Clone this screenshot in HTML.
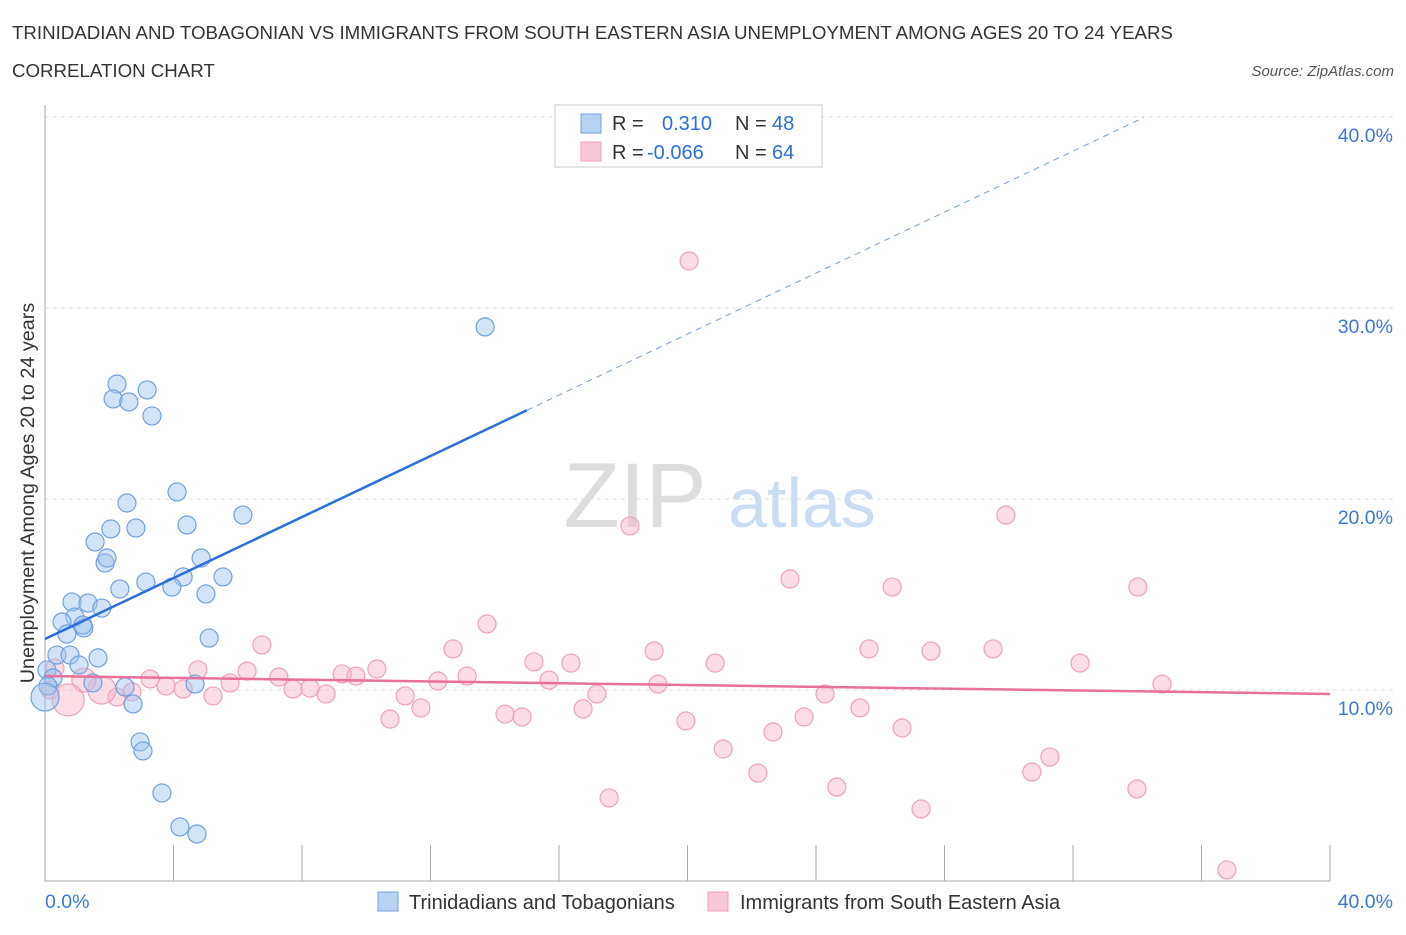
<!DOCTYPE html>
<html><head><meta charset="utf-8"><style>
body{margin:0;background:#fff;font-family:"Liberation Sans",sans-serif;}
svg text{font-family:"Liberation Sans",sans-serif;}
</style></head><body>
<svg id="c" width="1406" height="930" xmlns="http://www.w3.org/2000/svg">
<text x="12" y="39" font-size="18.7" fill="#333">TRINIDADIAN AND TOBAGONIAN VS IMMIGRANTS FROM SOUTH EASTERN ASIA UNEMPLOYMENT AMONG AGES 20 TO 24 YEARS</text>
<text x="12" y="77" font-size="18.7" fill="#333">CORRELATION CHART</text>
<text x="1394" y="76" font-size="15" font-style="italic" fill="#555" text-anchor="end">Source: ZipAtlas.com</text>
<g><text x="635" y="527" font-size="92" font-family="Liberation Serif" fill="#ddd" text-anchor="middle">ZIP</text><text x="802" y="527" font-size="70" fill="#c9dcf2" text-anchor="middle">atlas</text></g>
<g id="grid"></g>
<g id="axes"></g>
<g id="pts"></g>
<g id="trend"></g>
<text x="34" y="493" font-size="19.8" fill="#333" text-anchor="middle" transform="rotate(-90 34 493)">Unemployment Among Ages 20 to 24 years</text>
<g>
<rect x="555" y="105" width="267" height="62" fill="#fff" stroke="#ccc"/>
<rect x="581" y="114" width="20" height="19" fill="#b8d2f4" stroke="#6fa0e0"/>
<rect x="581" y="142" width="20" height="19" fill="#f9c8d6" stroke="#f0a0b8"/>
<text x="612" y="130" font-size="20" fill="#333">R = </text><text x="662" y="130" font-size="20" fill="#2a6fdb">0.310</text>
<text x="735" y="130" font-size="20" fill="#333">N = </text><text x="772" y="130" font-size="20" fill="#2a6fdb">48</text>
<text x="612" y="159" font-size="20" fill="#333">R = </text><text x="647" y="159" font-size="20" fill="#2a6fdb">-0.066</text>
<text x="735" y="159" font-size="20" fill="#333">N = </text><text x="772" y="159" font-size="20" fill="#2a6fdb">64</text>
</g>
<g>
<rect x="378" y="892" width="20" height="19" fill="#b8d2f4" stroke="#6fa0e0"/>
<text x="409" y="909" font-size="20" fill="#333">Trinidadians and Tobagonians</text>
<rect x="708" y="892" width="20" height="19" fill="#f9c8d6" stroke="#f0a0b8"/>
<text x="740" y="909" font-size="20" fill="#333">Immigrants from South Eastern Asia</text>
</g>
</svg>
<script>
const blueX=[2.24,2.12,2.61,3.18,3.33,13.70,4.11,2.55,2.05,2.83,1.56,4.42,6.16,1.87,1.93,4.86,5.54,4.30,3.14,3.95,2.33,5.01,0.84,1.34,1.77,0.93,0.53,1.21,1.18,0.68,5.11,0.37,0.78,1.65,1.06,0.06,0.25,0.09,1.49,2.49,4.67,2.74,2.96,3.05,3.64,4.20,4.73,0];
const blueY=[26.02,25.24,25.08,25.71,24.35,29.01,20.37,19.79,18.43,18.48,17.75,18.64,19.16,16.65,16.91,16.91,15.92,15.92,15.65,15.39,15.29,15.03,14.61,14.55,14.29,13.82,13.56,13.25,13.40,12.93,12.72,11.83,11.83,11.68,11.31,11.05,10.63,10.21,10.37,10.16,10.31,9.27,7.28,6.81,4.61,2.83,2.46,9.63];
const pinkX=[20.05,18.21,29.91,23.19,26.37,34.02,13.76,6.75,12.70,18.96,25.65,27.58,29.51,32.22,15.22,16.37,20.86,4.76,6.29,10.33,9.25,9.68,3.27,7.28,12.23,13.14,15.69,19.08,34.77,5.76,3.77,4.30,7.72,8.25,8.75,11.21,17.18,24.28,5.23,2.24,2.71,1.77,1.21,0.31,0.16,0.72,11.70,16.75,25.37,10.74,14.32,14.85,19.95,23.63,26.68,22.66,21.11,31.28,22.19,30.72,24.65,33.99,17.56,27.27,36.79];
const pinkY=[32.46,18.59,19.16,15.81,15.39,15.39,13.46,12.36,12.15,12.04,12.15,12.04,12.15,11.41,11.47,11.41,11.41,11.05,10.99,11.10,10.84,10.73,10.58,10.68,10.47,10.73,10.52,10.31,10.31,10.37,10.21,10.05,10.05,10.10,9.79,9.69,9.79,9.79,9.69,9.63,9.90,10.00,10.52,11.15,10.00,9.48,9.06,9.01,9.06,8.48,8.74,8.59,8.38,8.59,8.01,7.80,6.91,6.49,5.65,5.71,4.92,4.82,4.35,3.77,0.58];
const blueTrend=[12.67,44.6];
const pinkTrend=[10.73,9.79];
const yTicks=[10,20,30,40];
const xTickLabels=["0.0%","40.0%"];
const NS="http://www.w3.org/2000/svg";
const X=v=>45+v*32.125, Y=v=>881-v*19.1;
function mk(p,t,a){const e=document.createElementNS(NS,t);for(const k in a)e.setAttribute(k,a[k]);p.appendChild(e);return e;}
const g=document.getElementById('grid'),ax=document.getElementById('axes'),pt=document.getElementById('pts'),tr=document.getElementById('trend');
yTicks.forEach(v=>{
 const l=mk(g,'line',{x1:45,x2:1394,y1:Y(v),y2:Y(v),stroke:'#ddd','stroke-dasharray':'4,4'});
 
 
 const t=mk(ax,'text',{x:1393,y:Y(v)+25,'font-size':19.5,fill:'#3a78d4','text-anchor':'end'});t.textContent=v.toFixed(1)+'%';
 
 
});
mk(ax,'line',{x1:45,x2:45,y1:105,y2:881,stroke:'#aaa'});
mk(ax,'line',{x1:45,x2:1330,y1:881,y2:881,stroke:'#aaa'});
for(let i=0;i<=40;i+=4){mk(ax,'line',{x1:X(i),x2:X(i),y1:845,y2:881,stroke:'#aaa'});}
let t0=mk(ax,'text',{x:45,y:908,'font-size':19.5,fill:'#3a78d4'});t0.textContent=xTickLabels[0];


let t1=mk(ax,'text',{x:1393,y:908,'font-size':19.5,fill:'#3a78d4','text-anchor':'end'});t1.textContent=xTickLabels[1];


pinkX.forEach((x,i)=>{let r=9;if(i==41)r=14;if(i==45)r=16;if(i==42)r=12;
 const c=mk(pt,'circle',{cx:X(x),cy:Y(pinkY[i]),r:r,fill:'rgba(248,180,200,0.45)',stroke:'#f0a0b8','stroke-width':1.2});
 
 });
blueX.forEach((x,i)=>{let r=i==47?14:9;
 const c=mk(pt,'circle',{cx:X(x),cy:Y(blueY[i]),r:r,fill:'rgba(160,196,240,0.45)',stroke:'#6fa0e0','stroke-width':1.2});
 
 });
const by=x=>blueTrend[0]+(blueTrend[1]-blueTrend[0])*x/40;
let b1=mk(tr,'line',{x1:X(0),y1:Y(by(0)),x2:X(15),y2:Y(by(15)),stroke:'#2a6fdb','stroke-width':2.5});


let b2=mk(tr,'line',{x1:X(15),y1:Y(by(15)),x2:X(34.2),y2:Y(by(34.2)),stroke:'#6fa0e0','stroke-width':1,'stroke-dasharray':'6,5'});


let p1=mk(tr,'line',{x1:X(0),y1:Y(pinkTrend[0]),x2:X(40),y2:Y(pinkTrend[1]),stroke:'#e8709a','stroke-width':2.5});


</script>
</body></html>
